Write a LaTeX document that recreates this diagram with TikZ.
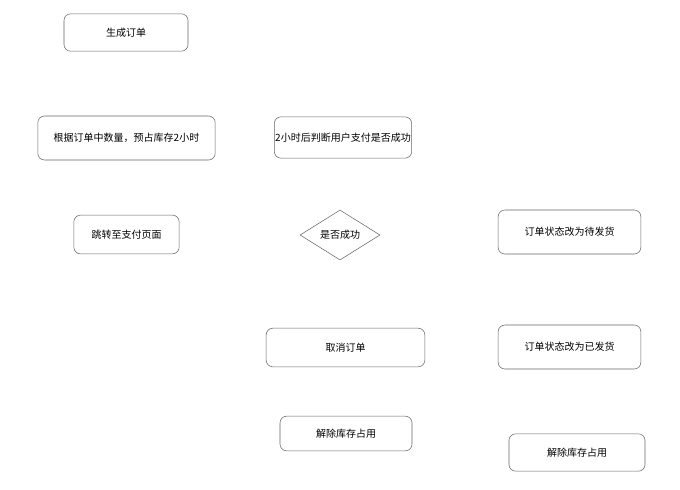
\documentclass[tikz,border=0pt]{standalone}
\usepackage{fontspec}
\setmainfont{Noto Sans CJK SC}
\usetikzlibrary{shapes.geometric}
\begin{document}
\begin{tikzpicture}[x=0.75pt,y=-0.75pt,
    stepbox/.style={draw=gray!80!black,rounded corners=5pt,font=\fontsize{7.5}{9}\selectfont,inner sep=0pt},
    choice/.style={draw=gray!80!black,diamond,aspect=1.6,font=\fontsize{7.5}{9}\selectfont,inner sep=0pt,minimum width=60pt,minimum height=37.5pt}]
  \useasboundingbox (0,0) rectangle (680,489);
  % left column
  \node[stepbox,minimum width=93pt,minimum height=28pt] (order) at (126,32.5) {生成订单};
  \node[stepbox,minimum width=133pt,minimum height=33pt] (reserve) at (126.5,138) {根据订单中数量，预占库存2小时};
  \node[stepbox,minimum width=79pt,minimum height=29pt] (pay) at (126.5,234.5) {跳转至支付页面};
  % middle column
  \node[stepbox,minimum width=103pt,minimum height=31pt] (check) at (343,137.5) {2小时后判断用户支付是否成功};
  \node[choice] (success) at (340,235) {是否成功};
  \node[stepbox,minimum width=119pt,minimum height=29pt] (cancel) at (345.5,347.5) {取消订单};
  \node[stepbox,minimum width=99pt,minimum height=26pt] (release) at (346,433.5) {解除库存占用};
  % right column
  \node[stepbox,minimum width=107pt,minimum height=33pt] (topay) at (569.5,232) {订单状态改为待发货};
  \node[stepbox,minimum width=107pt,minimum height=33pt] (shipped) at (569.5,347) {订单状态改为已发货};
  \node[stepbox,minimum width=102pt,minimum height=28pt] (release2) at (577,452.5) {解除库存占用};
\end{tikzpicture}
\end{document}
